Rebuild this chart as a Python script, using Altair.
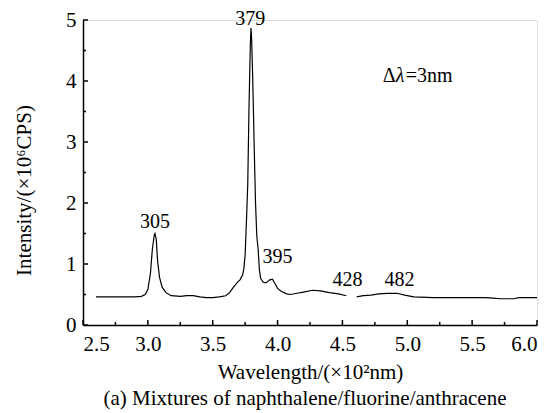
import altair as alt
import pandas as pd

# ---- spectrum (wavelength in x100 nm, intensity in x10^6 CPS) ----
wl_seg1 = [2.60, 2.70, 2.80, 2.90, 2.95, 2.98, 3.00, 3.02, 3.035, 3.05, 3.055, 3.065,
           3.075, 3.09, 3.11, 3.14, 3.18, 3.25, 3.30, 3.35, 3.40, 3.45, 3.50, 3.55,
           3.60, 3.63, 3.66, 3.69, 3.71, 3.73, 3.74, 3.75, 3.76, 3.77, 3.78, 3.79,
           3.795, 3.80, 3.81, 3.82, 3.83, 3.84, 3.85, 3.86, 3.87, 3.89, 3.91, 3.94,
           3.96, 3.98, 4.00, 4.03, 4.07, 4.10, 4.15, 4.20, 4.27, 4.33, 4.40, 4.47, 4.53]
int_seg1 = [0.46, 0.46, 0.46, 0.46, 0.47, 0.50, 0.58, 0.85, 1.25, 1.48, 1.50, 1.40,
            1.05, 0.78, 0.62, 0.53, 0.48, 0.47, 0.48, 0.48, 0.46, 0.45, 0.45, 0.46,
            0.48, 0.53, 0.62, 0.70, 0.74, 0.82, 0.92, 1.15, 1.70, 2.30, 3.60, 4.60,
            4.87, 4.70, 3.90, 2.90, 2.00, 1.45, 1.25, 0.90, 0.76, 0.70, 0.69, 0.74,
            0.75, 0.68, 0.60, 0.55, 0.51, 0.50, 0.52, 0.54, 0.57, 0.56, 0.53, 0.51, 0.48]
wl_seg2 = [4.61, 4.66, 4.72, 4.78, 4.85, 4.92, 4.98, 5.05, 5.20, 5.40, 5.60, 5.66,
           5.72, 5.82, 5.86, 6.00]
int_seg2 = [0.46, 0.48, 0.49, 0.51, 0.52, 0.52, 0.49, 0.46, 0.45, 0.45, 0.45, 0.44,
            0.43, 0.43, 0.45, 0.45]

# ---- axes ----
x_major = [2.5, 3.0, 3.5, 4.0, 4.5, 5.0, 5.5, 6.0]
x_minor = [2.75, 3.25, 3.75, 4.25, 4.75, 5.25, 5.75]
y_major = [0, 1, 2, 3, 4, 5]
y_minor = [0.5, 1.5, 2.5, 3.5, 4.5]

# ---- annotations ----
peak_labels = ["305", "379", "395", "428", "482"]
peak_x = [3.055, 3.79, 4.00, 4.54, 4.94]
peak_y = [1.69, 5.02, 1.11, 0.74, 0.74]
note_x = [4.81]
note_y = [4.08]

FONT = "Times New Roman, Liberation Serif, serif"
W, H = 454, 305

line_df = pd.DataFrame({
    "x": wl_seg1 + wl_seg2,
    "y": int_seg1 + int_seg2,
    "seg": ["a"] * len(wl_seg1) + ["b"] * len(wl_seg2),
})

xs = alt.Scale(domain=[2.5, 6.0], nice=False, zero=False)
ys = alt.Scale(domain=[0, 5], nice=False)

xaxis = alt.Axis(
    values=x_major, format=".1f", ticks=False, tickSize=0, grid=False,
    domainColor="black", domainWidth=1.5,
    labelFont=FONT, labelFontSize=21, labelColor="black", labelPadding=8,
    title="Wavelength/(×10²nm)", titleFont=FONT, titleFontSize=21,
    titleFontWeight="normal", titleColor="black", titleY=47,
    titleBaseline="middle")
yaxis = alt.Axis(
    values=y_major, format="d", ticks=False, tickSize=0, grid=False,
    domainColor="black", domainWidth=1.5,
    labelFont=FONT, labelFontSize=21, labelColor="black", labelPadding=7,
    title="Intensity/(×10⁶CPS)", titleFont=FONT, titleFontSize=21,
    titleFontWeight="normal", titleColor="black", titleX=-59, titleY=170,
    titleBaseline="middle")

X = alt.X("x:Q", scale=xs, axis=xaxis)
Y = alt.Y("y:Q", scale=ys, axis=yaxis)

line = alt.Chart(line_df).mark_line(color="black", strokeWidth=1.2).encode(
    x=X, y=Y, detail="seg:N")

def xticks(vals, length):
    return alt.Chart(pd.DataFrame({"x": vals})).mark_rule(
        color="black", strokeWidth=1.5).encode(
        x=X, y=alt.value(H), y2=alt.value(H - length))

def yticks(vals, length):
    return alt.Chart(pd.DataFrame({"y": vals})).mark_rule(
        color="black", strokeWidth=1.5).encode(
        y=Y, x=alt.value(0), x2=alt.value(length))

peaks = alt.Chart(pd.DataFrame({"t": peak_labels, "x": peak_x, "y": peak_y})).mark_text(
    font=FONT, fontSize=20, color="black", baseline="middle", align="center").encode(
    x=X, y=Y, text="t:N")

note_df = pd.DataFrame({"x": note_x, "y": note_y})
def note(text, dx, style="normal"):
    return alt.Chart(note_df).mark_text(
        text=text, font=FONT, fontSize=20, fontStyle=style, color="black",
        baseline="middle", align="left", dx=dx).encode(x=X, y=Y)

chart = alt.layer(
    line,
    xticks(x_major, 5), xticks(x_minor, 3),
    yticks(y_major, 5), yticks(y_minor, 3),
    peaks,
    note("Δ", 0), note("λ", 13, "italic"), note("=3nm", 23),
).properties(
    width=W, height=H,
    title=alt.TitleParams(
        "(a) Mixtures of naphthalene/fluorine/anthracene", orient="bottom",
        anchor="middle", font=FONT, fontSize=21, fontWeight="normal",
        color="black", offset=6, dx=-5),
    autosize=alt.AutoSizeParams(type="none"),
    padding={"left": 83, "top": 20, "right": 23, "bottom": 88},
).configure_view(stroke=None).configure_text(font=FONT).configure(background="white")

chart.save("out.html", embed_options={"renderer": "svg", "actions": False})
